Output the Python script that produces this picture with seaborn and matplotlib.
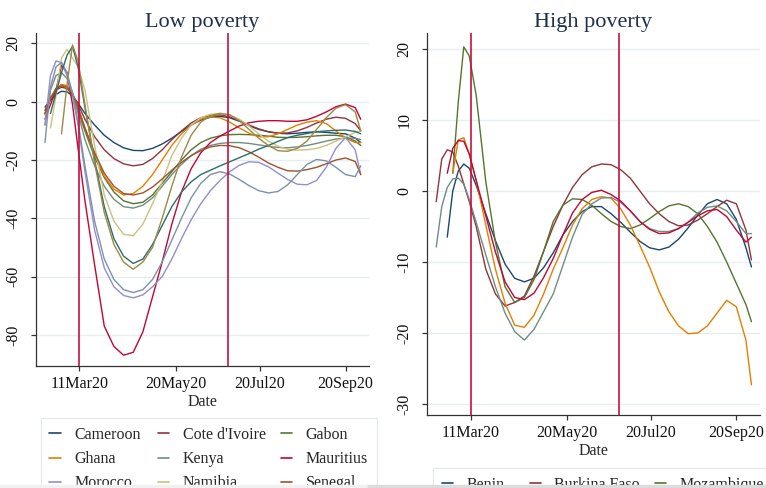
import pandas as pd
import numpy as np
import seaborn as sns
import matplotlib.pyplot as plt
from matplotlib.patches import Rectangle

   #dates of the smoothed series (2020).
dates = ['2020-02-15', '2020-02-19', '2020-02-23', '2020-02-27', '2020-03-02', '2020-03-06',
         '2020-03-10', '2020-03-15', '2020-03-22', '2020-03-29', '2020-04-05', '2020-04-12',
         '2020-04-19', '2020-04-26', '2020-05-03', '2020-05-10', '2020-05-17', '2020-05-24',
         '2020-05-31', '2020-06-07', '2020-06-14', '2020-06-21', '2020-06-28', '2020-07-05',
         '2020-07-12', '2020-07-19', '2020-07-26', '2020-08-02', '2020-08-09', '2020-08-16',
         '2020-08-23', '2020-08-30', '2020-09-06', '2020-09-13', '2020-09-20', '2020-09-27',
         '2020-10-01']

   #low poverty countries.
cameroon = [-1.8, 0.5, 2.5, 3.6, 3.4, 2.0, -0.5, -4.0, -8.0, -11.5, -14.0, -15.8, -16.7, -16.8, -16.0,
            -14.5, -12.5, -10.2, -8.0, -6.3, -5.3, -5.0, -5.5, -6.7, -8.2, -9.5, -10.3, -10.8, -11.0,
            -10.8, -10.5, -10.3, -10.5, -10.8, -11.0, -12.5, -14.0]
cote_divoire = [-3, 1.5, 4, 5, 4.5, 2.5, -1, -6, -12, -16.5, -19.5, -21.3, -22, -21.5, -19.5, -16.5,
                -13, -10, -7.3, -5.5, -4.7, -4.5, -5.2, -6.5, -8, -9.3, -10.3, -10.8, -10.7, -10,
                -8.8, -7.3, -6, -5.3, -5.7, -7.5, -10]
gabon = [-4, 1, 4.5, 5.5, 5, 2, -3, -10, -19, -26, -31, -34, -35, -34.5, -32, -28, -24, -20, -16.5,
         -14, -12.5, -11.7, -11.3, -11.2, -11.3, -11.5, -11.8, -12.2, -12.3, -12.2, -12, -11.7,
         -11.5, -11.5, -12, -13.5, -15]
ghana = [-4.5, 1, 4.5, 6, 5.5, 3, -2, -9, -18, -25.5, -30, -32, -31.5, -29, -25, -20, -15, -11, -8,
         -6, -5.2, -5.5, -7, -9, -10.8, -12, -12, -11, -9.5, -8, -7, -6.5, -7.5, -10, -12.5, -14, -14]
kenya = [-8, 4, 9, 10, 8, 3, -4, -13, -22, -29, -33.5, -36, -36.5, -35.5, -33, -29, -25, -21.5,
         -18.5, -16.3, -15, -14.3, -14, -14, -14.3, -14.8, -15.3, -15.7, -15.8, -15.5, -15, -14.3,
         -13.5, -12.8, -12.5, -12.5, -13]
mauritius = [-6, -1, 4, 12.5, 10, -1, -16, -34, -56, -77, -84, -87, -86, -79, -67, -55, -42, -31,
             -23, -17.5, -14, -11.8, -10, -8.3, -7.2, -6.7, -6.5, -6.5, -6.7, -6.7, -6.2, -5, -3.5,
             -1.7, -0.8, -2, -6]
morocco = [-8, 9, 14, 13.5, 9, 2, -8, -24, -44, -57, -63.5, -66.5, -67.3, -66.3, -63.5, -60, -54,
           -47, -40.5, -35, -30.5, -27, -24, -21.8, -20.6, -20.8, -22.3, -24.5, -26.7, -28.3, -28.5,
           -27, -22.5, -16, -12.3, -16.5, -25]
namibia = [np.nan, -9, 2, 15, 18, 15, 12, 4, -15, -32, -41, -45.5, -46, -42, -35, -27.5, -18.5,
           -12.5, -8, -5.5, -4.3, -4, -4.5, -6, -8.3, -11, -13.5, -15.3, -16.3, -16.6, -16.5, -16,
           -15, -13.5, -12, -10.5, -10]
senegal = [-4, 1, 4.5, 5.5, 5, 2.5, -2, -9, -17.5, -24.5, -29, -31.5, -32, -31.3, -29.3, -26.5,
           -23.5, -20.8, -18.5, -16.8, -15.5, -15, -15.1, -15.8, -17.2, -19, -21, -22.5, -23.7,
           -23.8, -23.3, -22.5, -21.3, -20, -19.3, -20.5, -25]
seychelles = [-14, 5, 12, 13.5, 10, 3, -7, -22, -41, -54, -61, -64.5, -65.5, -64.5, -61, -55,
              -47.5, -40, -33, -28, -25, -24, -24.8, -26.7, -28.8, -30.5, -31.3, -30.8, -28.5, -25,
              -21.5, -19.8, -20.3, -22.5, -25, -25.7, -22]
south_africa = [np.nan, -4, 3, 10, 16, 19, 12, -2, -20, -36, -47, -53, -55.5, -54, -49, -42.5, -36,
                -31, -27.5, -25, -23.5, -22, -20.6, -19.2, -17.8, -16.3, -15, -13.6, -12.3, -11.5,
                -10.9, -10.3, -10, -9.8, -9.7, -10.2, -11]
tunisia = [np.nan, np.nan, np.nan, -11, 6, 19.5, 14, -1, -21, -38, -49, -55, -57.5, -55, -50, -40,
           -29, -19, -11.5, -7, -4.8, -4, -4.5, -6.5, -9.5, -12.5, -15, -16.8, -17, -16, -13.5,
           -9.5, -5.5, -2.2, -1, -3.5, -10]

   #high poverty countries.
benin = [np.nan, np.nan, -6.5, 0, 2.8, 3.8, 3.2, 0.8, -3.2, -7, -10.3, -12.3, -12.8, -12.3, -10.8,
         -8.7, -6.2, -4.3, -2.9, -2.2, -2.2, -3.2, -4.4, -5.8, -7.1, -8, -8.3, -7.9, -6.8, -5.2,
         -3.4, -1.8, -1.2, -1.8, -4, -8, -10.7]
burkina_faso = [-1.5, 4.5, 5.8, 5.5, 3.5, 1, -1.5, -5, -11, -14.5, -16.2, -15.7, -14.8, -12, -8.5,
                -5, -2, 0.5, 2.3, 3.4, 3.8, 3.7, 3, 1.8, 0, -1.8, -3.2, -4.3, -4.9, -4.8, -4.1,
                -3.2, -2.2, -1.3, -1.8, -5.5, -9.7]
mozambique = [np.nan, np.nan, np.nan, 2.5, 12.5, 20.3, 19, 13.5, 1.3, -7.2, -13.5, -15.7, -15,
              -12.5, -8.5, -4.3, -2, -1.1, -1.2, -2, -3.2, -4.3, -5, -5.3, -4.8, -3.9, -2.9, -2.1,
              -1.8, -2.2, -3.2, -5, -7.2, -10, -13, -16, -18.4]
nigeria = [np.nan, np.nan, np.nan, 2.5, 7.2, 7.5, 5.2, 1.5, -4.8, -11, -15.8, -18.9, -19.2, -17.5,
           -14.5, -11, -8, -4.8, -2.5, -1.2, -0.8, -1, -2.5, -4.8, -7.7, -10.7, -14.2, -17, -19,
           -20.1, -20, -19, -17.2, -15.4, -16.3, -21, -27.3]
rwanda = [-7.9, -2.2, 0.5, 1.7, 1.8, 1, -1.2, -4.4, -9, -13.5, -17.2, -19.8, -21, -19.5, -17, -14.5,
          -10.5, -6.5, -3.3, -1.8, -1, -0.9, -1.6, -2.8, -4.3, -5.3, -5.7, -5.7, -5.3, -4.4, -3.1,
          -2.3, -2.1, -2.8, -4.3, -6, -6]
zambia = [np.nan, np.nan, 2.5, 6, 7.1, 7, 5.2, 1.5, -3.5, -8.6, -12.8, -15, -15.3, -14.4, -12.2,
          -9.5, -6.2, -3.1, -1.2, -0.2, 0.1, -0.5, -1.4, -2.8, -4.3, -5.4, -6, -5.9, -5.3, -4.4,
          -3.5, -2.8, -2.6, -3.6, -5.5, -7.2, -6.5]

low_names = ['Cameroon', "Cote d'Ivoire", 'Gabon', 'Ghana', 'Kenya', 'Mauritius', 'Morocco',
             'Namibia', 'Senegal', 'Seychelles', 'South Africa', 'Tunisia']
low_series = [cameroon, cote_divoire, gabon, ghana, kenya, mauritius, morocco, namibia, senegal,
              seychelles, south_africa, tunisia]
high_names = ['Benin', 'Burkina Faso', 'Mozambique', 'Nigeria', 'Rwanda', 'Zambia']
high_series = [benin, burkina_faso, mozambique, nigeria, rwanda, zambia]

tick_dates = ['2020-03-11', '2020-05-20', '2020-07-20', '2020-09-20']
tick_labels = ['11Mar20', '20May20', '20Jul20', '20Sep20']
event_dates = ['2020-03-11', '2020-06-27']

   #stata s2color palette.
stata_colors = ['#1a476f', '#90353b', '#55752f', '#e37e00', '#6e8e84', '#c10534',
                '#938dd2', '#cac27e', '#a0522d', '#7b92a8', '#2d6d66', '#9c8847']


def to_long(names, series):
    frames = []
    for name, vals in zip(names, series):
        frames.append(pd.DataFrame({'Date': pd.to_datetime(dates), 'value': vals, 'country': name}))
    return pd.concat(frames, ignore_index=True).dropna()


low_df = to_long(low_names, low_series)
high_df = to_long(high_names, high_series)

sns.set_style('ticks')
plt.rcParams['font.family'] = ['Liberation Serif', 'DejaVu Serif']

W, H = 766, 488
fig = plt.figure(figsize=(W / 100, H / 100), dpi=100)
ax1 = fig.add_axes([36 / W, 1 - 365.7 / H, 333 / W, 332.7 / H])
ax2 = fig.add_axes([427.3 / W, 1 - 415 / H, 332.4 / W, 382 / H])


def style_panel(ax, df, names, title, ylim, yticks, leg_xy, order):
    sns.lineplot(data=df, x='Date', y='value', hue='country', hue_order=names,
                 palette=stata_colors[:len(names)], linewidth=1.0, errorbar=None, ax=ax)
    for d in event_dates:
        ax.axvline(pd.Timestamp(d), color='#c8103e', lw=1.2, zorder=5)
    ax.set_xlim(pd.Timestamp('2020-02-08 12:00'), pd.Timestamp('2020-10-07'))
    ax.set_ylim(*ylim)
    ax.set_xticks(pd.to_datetime(tick_dates))
    ax.set_xticklabels(tick_labels)
    ax.set_yticks(yticks)
    ax.set_yticklabels([str(t) for t in yticks])
    ax.yaxis.grid(True, color='#e6eef0', lw=1.0)
    ax.set_axisbelow(True)
    sns.despine(ax=ax)
    for s in ['left', 'bottom']:
        ax.spines[s].set_linewidth(0.9)
        ax.spines[s].set_color('#333333')
    ax.tick_params(axis='both', length=3.5, width=0.9, color='#333333', labelsize=11.5,
                   labelcolor='#111111')
    ax.tick_params(axis='x', pad=4)
    ax.tick_params(axis='y', pad=7, labelrotation=90)
    plt.setp(ax.get_yticklabels(), va='center')
    ax.set_xlabel('Date', fontsize=11.5, labelpad=1)
    ax.set_ylabel('')
    ax.set_title(title, fontsize=16, color='#1f2f4f', pad=4)

    old = ax.get_legend()
    handles = old.legend_handles
    labels = [t.get_text() for t in old.get_texts()]
    leg = ax.legend([handles[i] for i in order], [labels[i] for i in order], ncol=3,
                    loc='upper left', bbox_to_anchor=leg_xy, bbox_transform=fig.transFigure,
                    frameon=True, fancybox=False, edgecolor='#dce5e8', fontsize=11.5,
                    handlelength=0.7, handletextpad=0.85, columnspacing=0.95,
                    labelspacing=0.52, borderpad=0.55, borderaxespad=0)
    leg.get_frame().set_linewidth(0.8)
    for hl in leg.get_lines():
        hl.set_linewidth(1.2)


style_panel(ax1, low_df, low_names, 'Low poverty', (-90.6, 23.6), [20, 0, -20, -40, -60, -80],
            (40.7 / W, 1 - 418 / H), [0, 3, 6, 9, 1, 4, 7, 10, 2, 5, 8, 11])
style_panel(ax2, high_df, high_names, 'High poverty', (-31.55, 22.25), [20, 10, 0, -10, -20, -30],
            (433 / W, 1 - 468 / H), [0, 3, 1, 4, 2, 5])

   #thin grey strip at the very bottom of the screenshot.
fig.add_artist(Rectangle((0, 0), 368 / W, 3 / H, transform=fig.transFigure,
                         color='#f1f1f1', zorder=10))
fig.add_artist(Rectangle((368 / W, 0), 1 - 368 / W, 3 / H, transform=fig.transFigure,
                         color='#dcdcdc', zorder=10))

fig.savefig('out.png', dpi=100)
